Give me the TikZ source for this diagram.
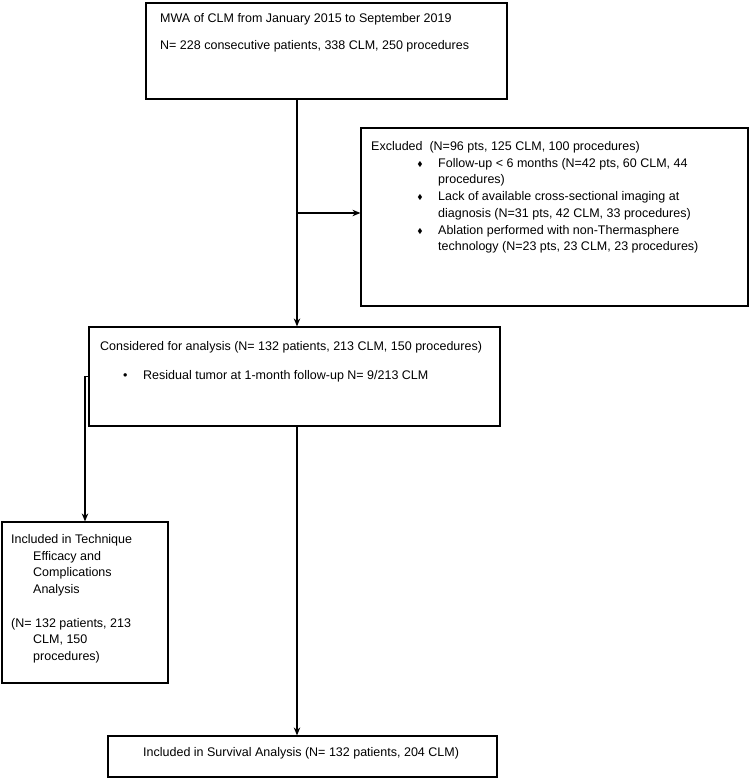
\documentclass[tikz,border=0pt]{standalone}
\usepackage{fontspec}
\usepackage{amssymb}
\usetikzlibrary{arrows.meta}
\setmainfont{Liberation Sans}
\begin{document}
\begin{tikzpicture}[x=1pt,y=-1pt]

\tikzset{line/.style={draw,line width=1.2pt}}
\tikzset{arrow/.style={line,->,>={Stealth[length=8pt,width=6.5pt]}}}
\tikzset{box/.style={line,rectangle,inner sep=0pt}}
\tikzset{txt/.style={inner sep=0pt,anchor=base west,align=left,font=\fontsize{12.5}{16.7}\selectfont}}
\tikzset{dia/.style={inner sep=0pt,anchor=base,font=\scriptsize}}

\useasboundingbox (0,0) rectangle (749,779);

% boxes
\node[box,minimum width=361pt,minimum height=96pt] (top) at (326.5,51) {};
\node[box,minimum width=387pt,minimum height=178pt] (excl) at (554.5,217) {};
\node[box,minimum width=411pt,minimum height=99pt] (mid) at (294.5,376.5) {};
\node[box,minimum width=166pt,minimum height=161pt] (incl) at (85,602.5) {};
\node[box,minimum width=389pt,minimum height=41pt] (surv) at (302.5,756.5) {};
\coordinate (spine) at (297,0);

% texts (multi-line nodes sit on their last line)
\node[txt] (toptitle) at (160,22.5) {MWA of CLM from January 2015 to September 2019};
\node[txt] (topcount) at (160,49.5) {N= 228 consecutive patients, 338 CLM, 250 procedures};

\node[txt] (exhead) at (371,150.5) {Excluded\ \ (N=96 pts, 125 CLM, 100 procedures)};
\node[dia] (exb1) at (420,166.2) {$\blacklozenge$};
\node[txt] (ex1) at (438,183.9) {Follow-up < 6 months (N=42 pts, 60 CLM, 44\\procedures)};
\node[dia] (exb2) at (420,199.6) {$\blacklozenge$};
\node[txt] (ex2) at (438,217.3) {Lack of available cross-sectional imaging at\\diagnosis (N=31 pts, 42 CLM, 33 procedures)};
\node[dia] (exb3) at (420,233.0) {$\blacklozenge$};
\node[txt] (ex3) at (438,250.7) {Ablation performed with non-Thermasphere\\technology (N=23 pts, 23 CLM, 23 procedures)};

\node[txt] (midhead) at (100,350.5) {Considered for analysis (N= 132 patients, 213 CLM, 150 procedures)};
\node[txt] (midb) at (123,379.5) {\textbullet};
\node[txt] (miditem) at (143,379.5) {Residual tumor at 1-month follow-up N= 9/213 CLM};

\node[txt] (incltxt) at (11,660.4) {Included in Technique\\\hspace*{22pt}Efficacy and\\\hspace*{22pt}Complications\\\hspace*{22pt}Analysis\\~\\(N= 132 patients, 213\\\hspace*{22pt}CLM, 150\\\hspace*{22pt}procedures)};

\node[txt] (survtxt) at (143,756.5) {Included in Survival Analysis (N= 132 patients, 204 CLM)};

% connectors
\path[arrow] (top.south -| spine) to (mid.north -| spine);
\path[arrow] (spine |- excl.west) ++(0,-4) to ([yshift=4pt]excl.west);
\path[arrow] (mid.west) -| (incl.north);
\path[arrow] (mid.south -| spine) to (surv.north -| spine);

\end{tikzpicture}
\end{document}
